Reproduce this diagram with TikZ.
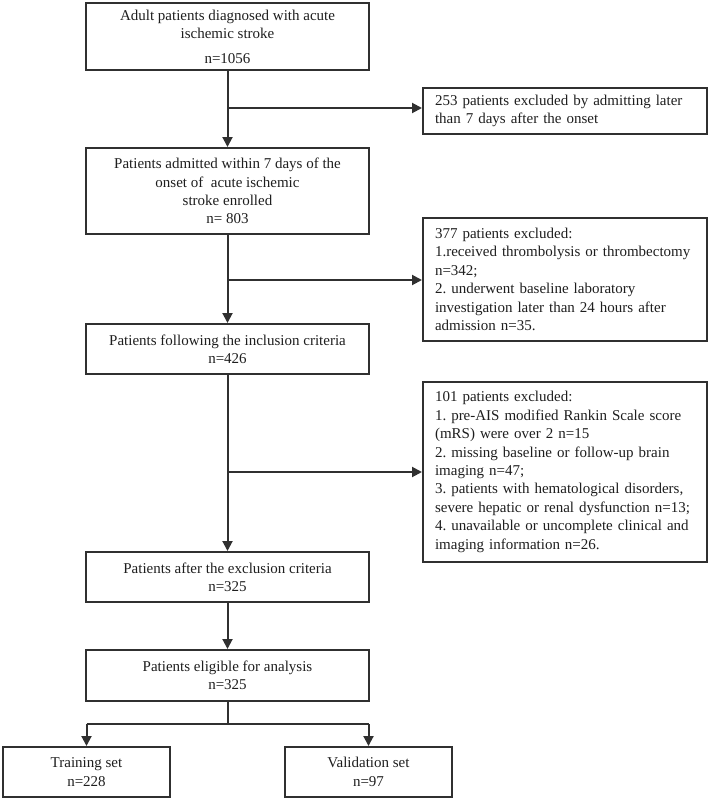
\documentclass[tikz,border=0pt]{standalone}
\usepackage{fontspec}
\setmainfont{Liberation Serif}
\usetikzlibrary{arrows.meta}
\frenchspacing
\definecolor{ln}{HTML}{303030}
\definecolor{tx}{HTML}{1E1E1E}
\tikzset{
  mainbox/.style={draw=ln, line width=2pt, minimum width=283pt, align=center, inner sep=0pt, text=tx,
    font=\fontsize{15}{18.4}\selectfont},
  exbox/.style={draw=ln, line width=2pt, text width=260pt, align=left, inner xsep=12pt, inner ysep=0pt, text=tx,
    font=\fontsize{15}{18.4}\selectfont},
  conn/.style={draw=ln, line width=2pt},
  arr/.style={conn, -{Triangle[length=10pt,width=10pt]}}
}
\begin{document}
\begin{tikzpicture}[x=1pt,y=-1pt]
\useasboundingbox (0,0) rectangle (709,800);
\node[mainbox, minimum height=67pt] (b1) at (227.5,36.5) {Adult patients diagnosed with acute\\ischemic stroke\\[6pt]n=1056};
\node[mainbox, minimum height=86pt] (b2) at (227.5,191) {Patients admitted within 7 days of the\\onset of\ \ acute ischemic\\stroke enrolled\\n= 803};
\node[mainbox, minimum height=50pt] (b3) at (227.5,349) {Patients following the inclusion criteria\\n=426};
\node[mainbox, minimum height=50pt] (b4) at (227.5,577) {Patients after the exclusion criteria\\n=325};
\node[mainbox, minimum height=51pt] (b5) at (227.5,675.5) {Patients eligible for analysis\\n=325};
\node[mainbox, minimum width=167pt, minimum height=50pt] (tr) at (86.5,772) {Training set\\n=228};
\node[mainbox, minimum width=167pt, minimum height=50pt] (va) at (368.5,772) {Validation set\\n=97};
\node[exbox, minimum height=46pt] (e1) at (565,111) {253 patients excluded by admitting later\\than 7 days after the onset};
\node[exbox, minimum height=123pt] (e2) at (565,279.5) {377 patients excluded:\\1.received thrombolysis or thrombectomy\\n=342;\\2. underwent baseline laboratory\\investigation later than 24 hours after\\admission n=35.};
\node[exbox, minimum height=180pt] (e3) at (565,472) {101 patients excluded:\\1. pre-AIS modified Rankin Scale score\\(mRS) were over 2 n=15\\2. missing baseline or follow-up brain\\imaging n=47;\\3. patients with hematological disorders,\\severe hepatic or renal dysfunction n=13;\\4. unavailable or uncomplete clinical and\\imaging information n=26.};
\coordinate (c1) at (227.5,108);
\coordinate (c2) at (227.5,280);
\coordinate (c3) at (227.5,472);
\coordinate (sp) at (227.5,724);
\draw[arr] (b1.south) -- (b2.north);
\draw[arr] (c1) -- (c1 -| e1.west);
\draw[arr] (b2.south) -- (b3.north);
\draw[arr] (c2) -- (c2 -| e2.west);
\draw[arr] (b3.south) -- (b4.north);
\draw[arr] (c3) -- (c3 -| e3.west);
\draw[arr] (b4.south) -- (b5.north);
\draw[conn] (b5.south) -- (sp);
\draw[conn] (sp -| tr.north) -- (sp -| va.north);
\draw[arr] (sp -| tr.north) -- (tr.north);
\draw[arr] (sp -| va.north) -- (va.north);
\end{tikzpicture}
\end{document}
